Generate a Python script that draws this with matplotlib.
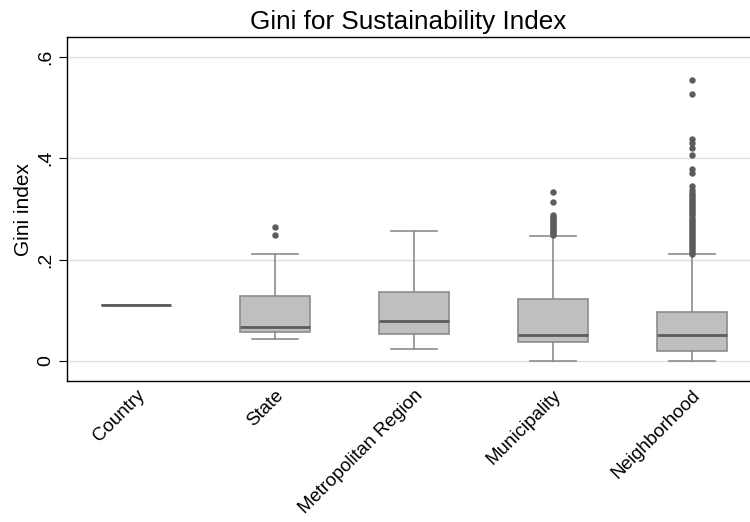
import matplotlib
matplotlib.use("Agg")
import matplotlib.pyplot as plt

plt.rcParams["font.family"] = ["Liberation Sans", "DejaVu Sans"]

# Summary stats per geographic level (Gini index)
levels   = ["Country", "State", "Metropolitan Region", "Municipality", "Neighborhood"]
medians  = [0.111, 0.068, 0.078, 0.051, 0.051]
q1       = [0.111, 0.057, 0.054, 0.038, 0.020]
q3       = [0.111, 0.128, 0.136, 0.123, 0.097]
wlo      = [0.111, 0.044, 0.023, 0.000, 0.000]
whi      = [0.111, 0.211, 0.257, 0.247, 0.211]

state_out = [0.265, 0.249]
metro_out = []
muni_out  = [0.334, 0.313, 0.288, 0.285, 0.282, 0.279, 0.276, 0.273, 0.270,
             0.267, 0.264, 0.261, 0.258, 0.255, 0.252, 0.249]
neigh_out = [0.554, 0.527, 0.437, 0.429, 0.421, 0.406, 0.379, 0.370, 0.345,
             0.337, 0.331, 0.327, 0.323, 0.319, 0.315, 0.311, 0.307, 0.303,
             0.299, 0.295, 0.291, 0.287, 0.283, 0.279, 0.275, 0.271, 0.267,
             0.263, 0.259, 0.255, 0.251, 0.247, 0.243, 0.239, 0.235, 0.231,
             0.227, 0.223, 0.219, 0.215, 0.212]
fliers = [[], state_out, metro_out, muni_out, neigh_out]

yticks = [0, 0.2, 0.4, 0.6]
ytick_labels = ["0", ".2", ".4", ".6"]

stats = []
for i, name in enumerate(levels):
    stats.append({
        "label": name, "med": medians[i], "q1": q1[i], "q3": q3[i],
        "whislo": wlo[i], "whishi": whi[i], "fliers": fliers[i],
    })

fig = plt.figure(figsize=(7.5, 5.22), dpi=100)
ax = fig.add_axes([67 / 750, 141 / 522, 683 / 750, 344 / 522])

edge = "#8c8c8c"
ax.bxp(
    stats, positions=range(1, 6), widths=0.504, patch_artist=True,
    boxprops=dict(facecolor="#bfbfbf", edgecolor=edge, linewidth=1.2),
    medianprops=dict(color="#5c5c5c", linewidth=2.0),
    whiskerprops=dict(color=edge, linewidth=1.2),
    capprops=dict(color=edge, linewidth=1.2),
    capwidths=0.33,
    flierprops=dict(marker="o", markersize=3.6, markerfacecolor="#5c5c5c",
                    markeredgecolor="#5c5c5c", linestyle="none"),
    zorder=3,
)

ax.set_xlim(0.504, 5.42)
ax.set_ylim(-0.0394, 0.639)
ax.set_yticks(yticks)
ax.set_yticklabels(ytick_labels, rotation=90, va="center", fontsize=14)
ax.tick_params(axis="y", length=6, width=0.8, pad=3)
ax.tick_params(axis="x", length=0, pad=4)
ax.set_xticklabels(levels, rotation=45, ha="right", va="top",
                   rotation_mode="anchor", fontsize=13.5)
ax.grid(axis="y", color="#e0e0e0", linewidth=1.0, zorder=0)
ax.set_axisbelow(True)

for side in ["left", "top", "bottom"]:
    ax.spines[side].set_color("black")
    ax.spines[side].set_linewidth(1.0)
ax.spines["right"].set_visible(False)

ax.set_ylabel("Gini index", fontsize=15, labelpad=3)
ax.set_title("Gini for Sustainability Index", fontsize=18.8, pad=6)

fig.savefig("out.png", dpi=100)
